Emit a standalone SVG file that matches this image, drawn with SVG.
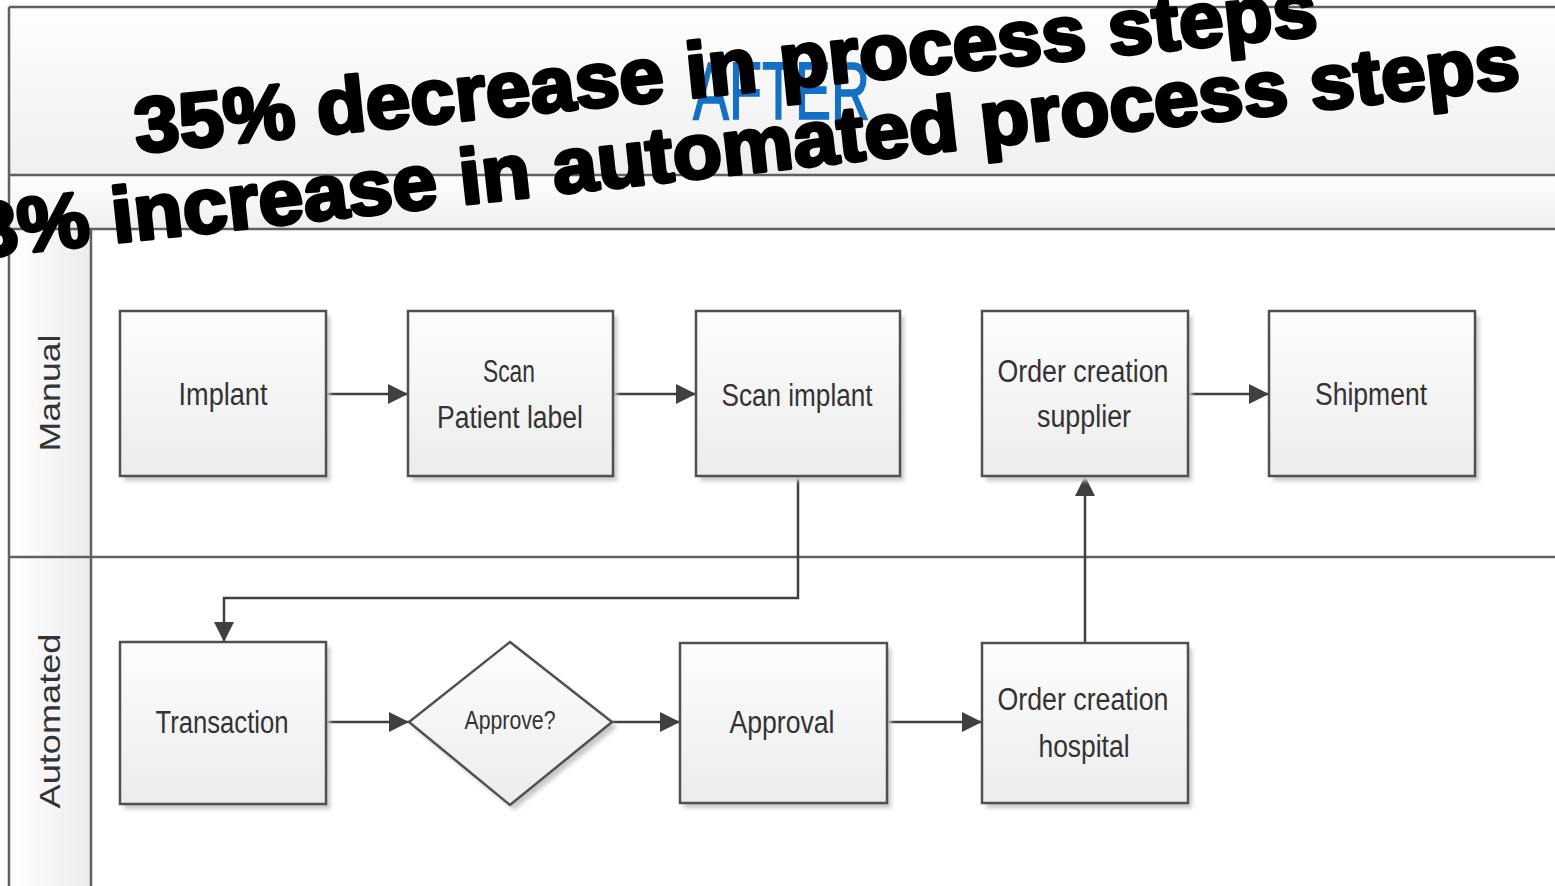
<svg xmlns="http://www.w3.org/2000/svg" width="1555" height="886" viewBox="0 0 1555 886">
<defs>
<linearGradient id="gBox" x1="0" y1="0" x2="0" y2="1">
<stop offset="0" stop-color="#fdfdfd"/>
<stop offset="1" stop-color="#ececec"/>
</linearGradient>
<linearGradient id="gBand" x1="0" y1="0" x2="0" y2="1">
<stop offset="0" stop-color="#fefefe"/>
<stop offset="1" stop-color="#efefef"/>
</linearGradient>
<linearGradient id="gLane" x1="0" y1="0" x2="1" y2="0">
<stop offset="0" stop-color="#ffffff"/>
<stop offset="1" stop-color="#ececec"/>
</linearGradient>
<filter id="blur" x="-10%" y="-10%" width="130%" height="130%">
<feGaussianBlur stdDeviation="2"/>
</filter>
<marker id="arr" markerUnits="userSpaceOnUse" markerWidth="22" markerHeight="24" refX="20" refY="11" orient="auto">
<path d="M0,1 L20,11 L0,21 z" fill="#404040"/>
</marker>
</defs>
<style>
.frame{stroke:#606060;stroke-width:2.5;fill:none}
.box{fill:url(#gBox);stroke:#505050;stroke-width:2.5}
.shadow{fill:#c8c8c8;filter:url(#blur)}
.lbl{font-family:"Liberation Sans",Arial,sans-serif;font-size:31px;fill:#333;text-anchor:middle}
.lane{font-family:"Liberation Sans",Arial,sans-serif;font-size:29px;fill:#333;text-anchor:middle}
.con{fill:none;stroke:#404040;stroke-width:2.5;marker-end:url(#arr)}
.big{font-family:"Liberation Sans",Arial,sans-serif;font-weight:bold;font-size:78px;fill:#000;stroke:#000;stroke-width:3.5;stroke-linejoin:round}
</style>
<rect width="1555" height="886" fill="#ffffff"/>
<g id="pool">
<rect x="9" y="7" width="1560" height="168" fill="url(#gBand)"/>
<rect x="9" y="175" width="1560" height="54" fill="url(#gBand)"/>
<rect x="9" y="229" width="82" height="670" fill="url(#gLane)"/>
<path class="frame" d="M9,7 H1560 M9,175 H1560 M9,229 H1560 M9,7 V890 M91,229 V890 M9,557 H1560"/>
<text x="781.5" y="119" text-anchor="middle" textLength="177" lengthAdjust="spacingAndGlyphs" font-family="Liberation Sans, Arial, sans-serif" font-size="82" fill="#1470c4" stroke="#1470c4" stroke-width="1.5">AFTER</text>
</g>
<g id="lane-manual">
<text class="lane" transform="translate(60,393) rotate(-90)" textLength="117" lengthAdjust="spacingAndGlyphs">Manual</text>
</g>
<g id="lane-automated">
<text class="lane" transform="translate(60,721) rotate(-90)" textLength="175" lengthAdjust="spacingAndGlyphs">Automated</text>
</g>
<g id="connectors">
<path class="con" d="M326,394 H408"/>
<path class="con" d="M613,394 H696"/>
<path class="con" d="M1188,394 H1269"/>
<path class="con" d="M798,476 V598 H224 V642"/>
<path class="con" d="M1085,643 V476"/>
<path class="con" d="M326,722 H409"/>
<path class="con" d="M612,722 H680"/>
<path class="con" d="M887,722 H982"/>
</g>
<g id="implant">
<rect class="shadow" x="124" y="316" width="206" height="165"/>
<rect class="box" x="120" y="311" width="206" height="165"/>
<text class="lbl" x="223" y="405" textLength="89" lengthAdjust="spacingAndGlyphs">Implant</text>
</g>
<g id="scan-patient-label">
<rect class="shadow" x="412" y="316" width="205" height="165"/>
<rect class="box" x="408" y="311" width="205" height="165"/>
<text class="lbl" x="509" y="382" textLength="52" lengthAdjust="spacingAndGlyphs">Scan</text>
<text class="lbl" x="510" y="428" textLength="146" lengthAdjust="spacingAndGlyphs">Patient label</text>
</g>
<g id="scan-implant">
<rect class="shadow" x="700" y="316" width="204" height="165"/>
<rect class="box" x="696" y="311" width="204" height="165"/>
<text class="lbl" x="797" y="406" textLength="151" lengthAdjust="spacingAndGlyphs">Scan implant</text>
</g>
<g id="order-creation-supplier">
<rect class="shadow" x="986" y="316" width="206" height="165"/>
<rect class="box" x="982" y="311" width="206" height="165"/>
<text class="lbl" x="1083" y="382" textLength="171" lengthAdjust="spacingAndGlyphs">Order creation</text>
<text class="lbl" x="1084" y="427" textLength="94" lengthAdjust="spacingAndGlyphs">supplier</text>
</g>
<g id="shipment">
<rect class="shadow" x="1273" y="316" width="206" height="165"/>
<rect class="box" x="1269" y="311" width="206" height="165"/>
<text class="lbl" x="1371" y="405" textLength="112" lengthAdjust="spacingAndGlyphs">Shipment</text>
</g>
<g id="transaction">
<rect class="shadow" x="124" y="647" width="206" height="162"/>
<rect class="box" x="120" y="642" width="206" height="162"/>
<text class="lbl" x="222" y="733" textLength="133" lengthAdjust="spacingAndGlyphs">Transaction</text>
</g>
<g id="approve">
<path class="shadow" d="M514,647 L617,727 L514,810 L413,727 z"/>
<path class="box" d="M510,642 L612,722 L510,805 L409,722 z"/>
<text class="lbl" x="510" y="729" style="font-size:25px" textLength="91" lengthAdjust="spacingAndGlyphs">Approve?</text>
</g>
<g id="approval">
<rect class="shadow" x="684" y="648" width="207" height="160"/>
<rect class="box" x="680" y="643" width="207" height="160"/>
<text class="lbl" x="782" y="733" textLength="105" lengthAdjust="spacingAndGlyphs">Approval</text>
</g>
<g id="order-creation-hospital">
<rect class="shadow" x="986" y="648" width="206" height="160"/>
<rect class="box" x="982" y="643" width="206" height="160"/>
<text class="lbl" x="1083" y="710" textLength="171" lengthAdjust="spacingAndGlyphs">Order creation</text>
<text class="lbl" x="1084" y="757" textLength="91" lengthAdjust="spacingAndGlyphs">hospital</text>
</g>
<g id="headline">
<text class="big" transform="translate(137,153) rotate(-5.7)" textLength="1188" lengthAdjust="spacingAndGlyphs">35% decrease in process steps</text>
<text class="big" transform="translate(-24,258) rotate(-6.3)" textLength="1555" lengthAdjust="spacingAndGlyphs">3% increase in automated process steps</text>
</g>
</svg>
